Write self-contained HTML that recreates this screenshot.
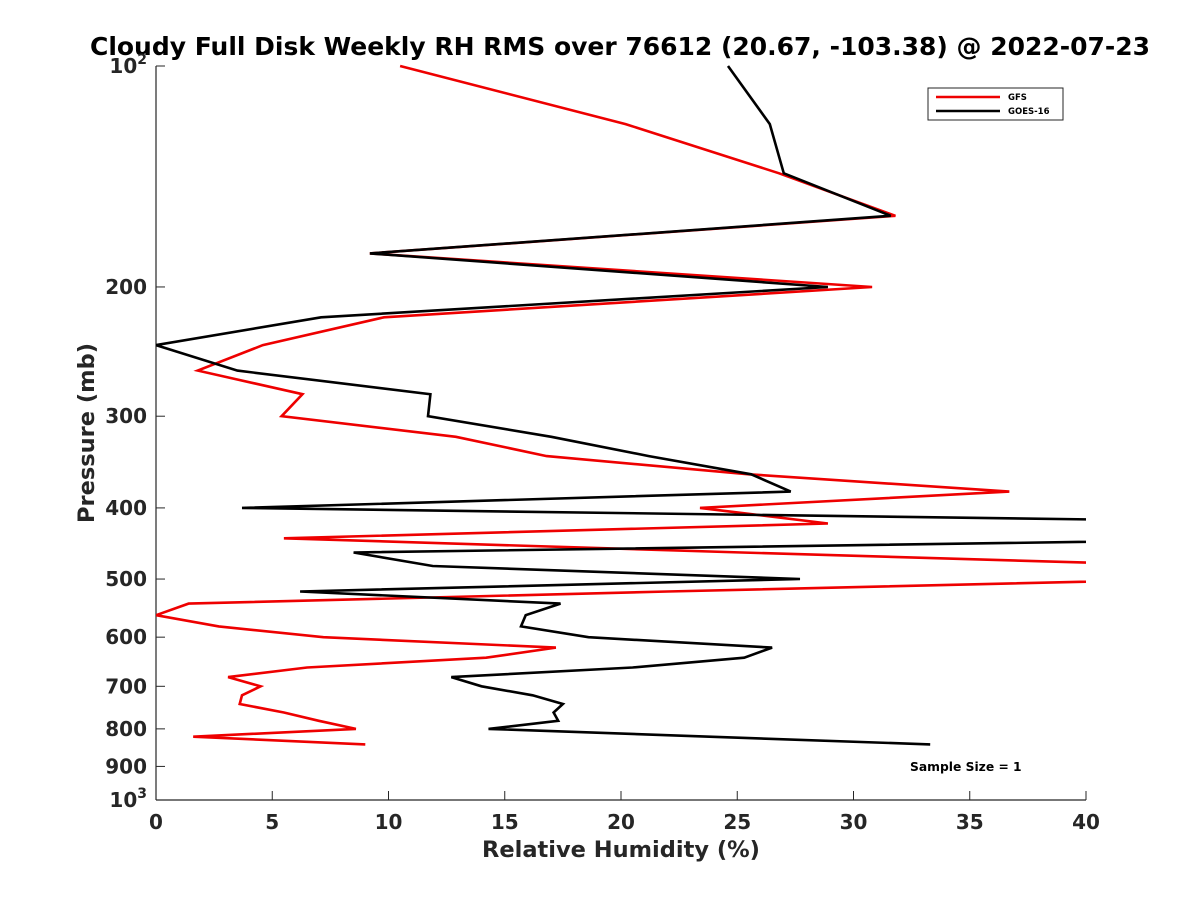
<!DOCTYPE html>
<html><head><meta charset="utf-8"><style>
html,body{margin:0;padding:0;background:#fff;}
svg{display:block;font-family:"DejaVu Sans","Liberation Sans",sans-serif;}
</style></head><body>
<svg id="chart" width="1200" height="900" viewBox="0 0 1200 900" xmlns="http://www.w3.org/2000/svg">
<rect width="1200" height="900" fill="#fff"/>
<defs><clipPath id="plotclip"><rect x="156" y="60" width="930" height="745"/></clipPath></defs>
<text x="620" y="55" text-anchor="middle" font-size="25" font-weight="bold" textLength="1060" lengthAdjust="spacingAndGlyphs">Cloudy Full Disk Weekly RH RMS over 76612 (20.67, -103.38) @ 2022-07-23</text>
<g id="axes"></g>
<g id="series" clip-path="url(#plotclip)"></g>
<text x="621" y="857" text-anchor="middle" font-size="22.5" font-weight="bold" fill="#262626">Relative Humidity (%)</text>
<text transform="translate(94,433) rotate(-90)" text-anchor="middle" font-size="22.5" font-weight="bold" fill="#262626">Pressure (mb)</text>
<g>
<rect x="928" y="88" width="135" height="32" fill="#fff" stroke="#262626" stroke-width="1"/>
<line x1="936" y1="97" x2="1000" y2="97" stroke="#e00" stroke-width="2.5"/>
<text x="1008" y="100" font-size="8.5" font-weight="bold">GFS</text>
<line x1="936" y1="111" x2="1000" y2="111" stroke="#000" stroke-width="2.5"/>
<text x="1008" y="114" font-size="8.5" font-weight="bold">GOES-16</text>
</g>
<text x="910" y="771" font-size="12.3" font-weight="bold">Sample Size = 1</text>
</svg>
<script>
const pressures = [100,120,140,160,180,200,220,240,260,280,300,320,340,360,380,400,420,440,460,480,500,520,540,560,580,600,620,640,660,680,700,720,740,760,780,800,820,840];
const gfsValues = [10.5,20.2,26.8,31.8,9.2,30.8,9.8,4.6,1.8,6.3,5.4,12.9,16.8,25.5,36.7,23.4,28.9,5.5,25.2,45,45,22,1.4,0,2.7,7.2,17.2,14.2,6.5,3.1,4.5,3.7,3.6,5.5,7.0,8.6,1.6,9.0];
const goesValues = [24.6,26.4,27.0,31.6,9.2,28.9,7.1,0,3.5,11.8,11.7,17.0,21.2,25.6,27.3,3.7,53,50.5,8.5,11.9,27.7,6.2,17.4,15.9,15.7,18.6,26.5,25.3,20.5,12.7,14.0,16.2,17.5,17.1,17.3,14.3,23.8,33.3];
const xTicks = [0,5,10,15,20,25,30,35,40];
const yTicks = [100,200,300,400,500,600,700,800,900,1000];
const yTickLabels = ["10^2","200","300","400","500","600","700","800","900","10^3"];

const NS="http://www.w3.org/2000/svg";
const X0=156,X1=1086,Y0=66,Y1=800;
function xs(v){return X0+(v-0)/(40-0)*(X1-X0);}
function ys(p){return Y0+(Math.log10(p)-2)/(3-2)*(Y1-Y0);}
function mk(tag,attrs,parent){const e=document.createElementNS(NS,tag);for(const k in attrs)e.setAttribute(k,attrs[k]);parent.appendChild(e);return e;}
const axes=document.getElementById('axes');
const series=document.getElementById('series');

const xAxis=mk('line',{x1:X0,y1:Y1,x2:X1,y2:Y1,stroke:'#262626','stroke-width':1.2},axes);


const yAxis=mk('line',{x1:X0,y1:Y0,x2:X0,y2:Y1,stroke:'#262626','stroke-width':1.2},axes);



xTicks.forEach(v=>{
  const x=xs(v);
  const t=mk('line',{x1:x,y1:Y1,x2:x,y2:Y1-9,stroke:'#262626','stroke-width':1},axes);
  
  
  const l=mk('text',{x:x,y:Y1+29,'text-anchor':'middle','font-size':20,'font-weight':'bold',fill:'#262626'},axes);
  l.textContent=String(v);
  
  
});
yTicks.forEach((p,i)=>{
  const y=ys(p);
  const t=mk('line',{x1:X0,y1:y,x2:X0+9,y2:y,stroke:'#262626','stroke-width':1},axes);
  
  
  const lab=yTickLabels[i];
  const l=mk('text',{x:X0-9,y:y+7,'text-anchor':'end','font-size':20,'font-weight':'bold',fill:'#262626'},axes);
  if(lab.indexOf('^')>=0){
    const parts=lab.split('^');
    const a=mk('tspan',{},l); a.textContent=parts[0];
    const b=mk('tspan',{dy:-9,'font-size':14},l); b.textContent=parts[1];
  } else {
    l.textContent=lab;
  }
  
  
});

function drawLine(vals,color,name){
  const d=vals.map((v,i)=>(i?'L':'M')+xs(v).toFixed(1)+','+ys(pressures[i]).toFixed(1)).join(' ');
  const p=mk('path',{d:d,fill:'none',stroke:color,'stroke-width':2.6,'stroke-linejoin':'miter'},series);
  
  
}
drawLine(gfsValues,'#e00','gfs-line');
drawLine(goesValues,'#000','goes16-line');
</script>
</body></html>
